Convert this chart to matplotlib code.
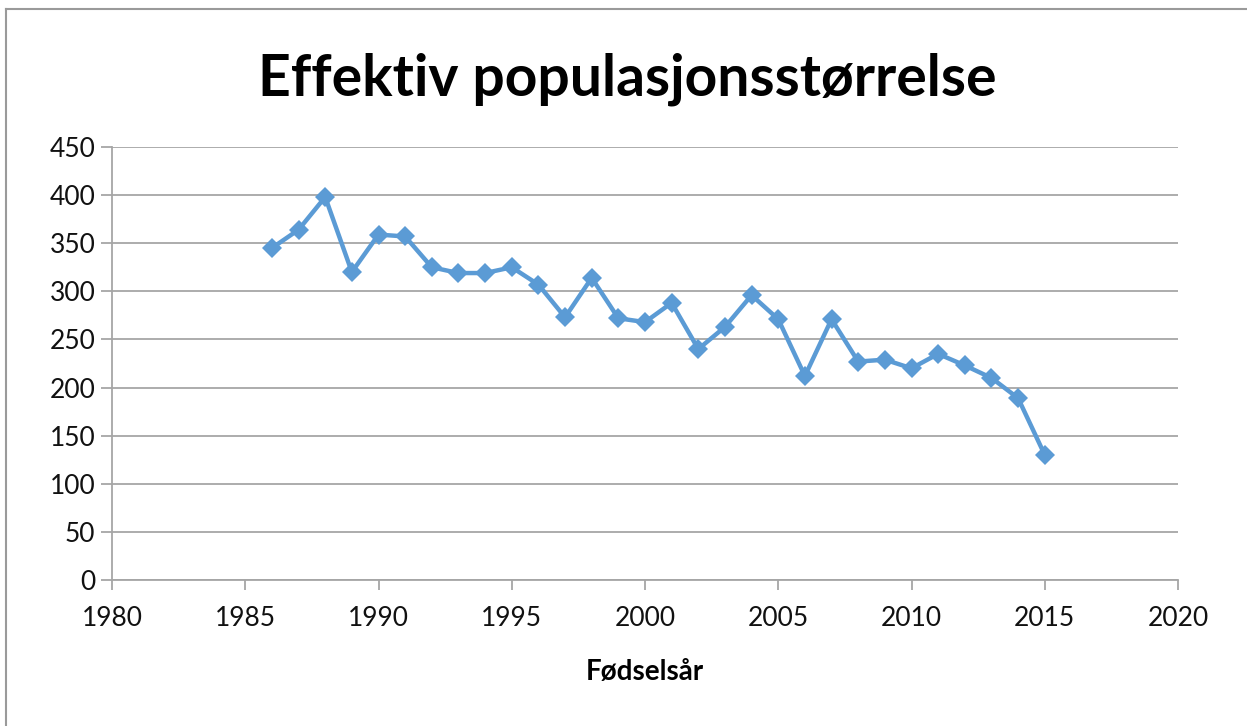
import matplotlib
matplotlib.use("Agg")
import matplotlib.pyplot as plt
from matplotlib.lines import Line2D

# fødselsår og effektiv populasjonsstørrelse
years = [1986, 1987, 1988, 1989, 1990, 1991, 1992, 1993, 1994, 1995,
         1996, 1997, 1998, 1999, 2000, 2001, 2002, 2003, 2004, 2005,
         2006, 2007, 2008, 2009, 2010, 2011, 2012, 2013, 2014, 2015]
ne = [345, 364, 398, 320, 359, 357, 325, 319, 319, 325,
      307, 273, 314, 272, 268, 288, 240, 263, 296, 271,
      212, 271, 227, 229, 220, 235, 223, 210, 189, 130]

x_ticks = [1980, 1985, 1990, 1995, 2000, 2005, 2010, 2015, 2020]
y_ticks = [0, 50, 100, 150, 200, 250, 300, 350, 400, 450]

title = "Effektiv populasjonsstørrelse"
xlabel = "Fødselsår"

plt.rcParams['font.family'] = ['Lato', 'DejaVu Sans']
grey = '#a6a6a6'

fig = plt.figure(figsize=(12.47, 7.26), dpi=100)
ax = fig.add_axes([112 / 1247, 146 / 726, 1066 / 1247, 433 / 726])

ax.plot(years, ne, color='#5b9bd5', lw=3.2, marker='D', markersize=10,
        markeredgewidth=0, zorder=3)

ax.set_xlim(1980, 2020)
ax.set_ylim(0, 450)
ax.set_xticks(x_ticks)
ax.set_yticks(y_ticks)
ax.grid(axis='y', color=grey, lw=1.3)
ax.set_axisbelow(True)

for s in ['top', 'right']:
    ax.spines[s].set_visible(False)
for s in ['left', 'bottom']:
    ax.spines[s].set_color(grey)
    ax.spines[s].set_linewidth(1.3)

ax.tick_params(axis='both', colors=grey, labelcolor='#111111', labelsize=19,
               width=1.3)
ax.tick_params(axis='y', length=8, pad=4)
ax.tick_params(axis='x', length=7, pad=12)

ax.set_xlabel(xlabel, fontsize=20, fontweight='bold', labelpad=20)
fig.text(0.503, 1 - 95 / 726, title, fontsize=41, fontweight='bold',
         ha='center', va='baseline')

# ramme rundt diagrammet
fig.add_artist(Line2D([6 / 1247, 1.0], [1 - 9 / 726, 1 - 9 / 726],
                      transform=fig.transFigure, color='#9a9a9a', lw=1.5))
fig.add_artist(Line2D([6 / 1247, 6 / 1247], [0.0, 1 - 9 / 726],
                      transform=fig.transFigure, color='#9a9a9a', lw=1.5))

fig.savefig("out.png", dpi=100)
